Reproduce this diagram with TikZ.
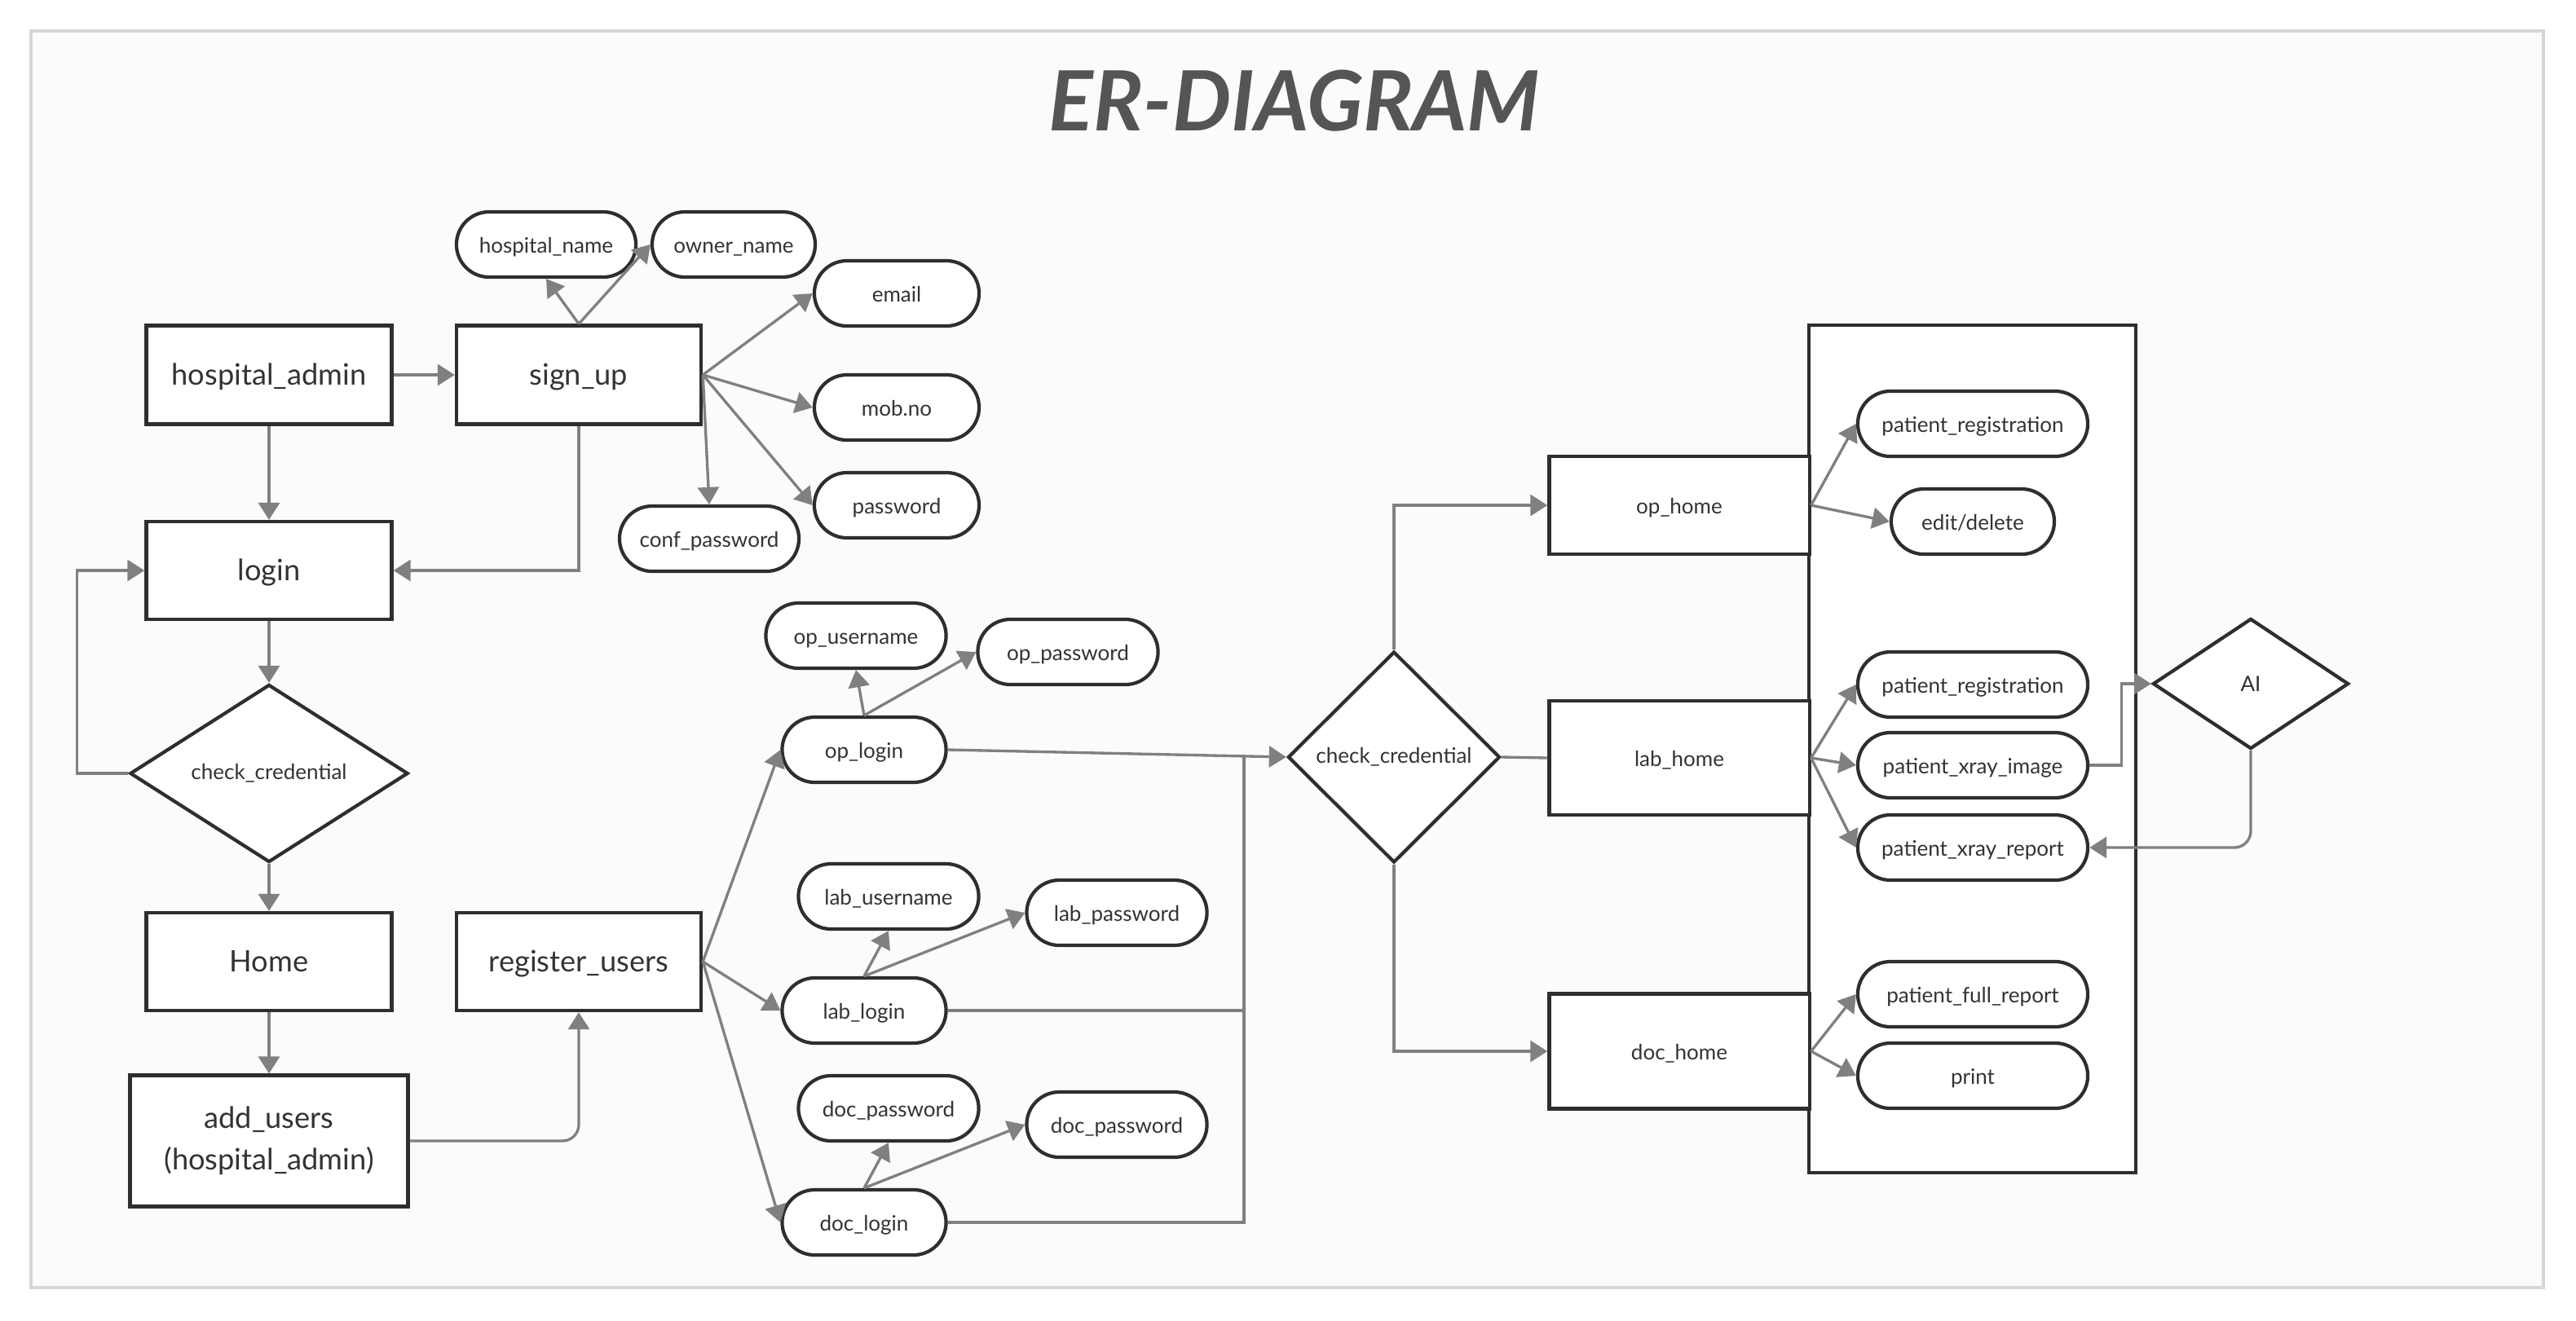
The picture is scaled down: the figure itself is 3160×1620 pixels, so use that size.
\documentclass[tikz,border=0pt]{standalone}
\usepackage{fontspec}
\setmainfont{Lato}
\usepackage{xcolor}
\usetikzlibrary{shapes.geometric, shapes.misc, arrows.meta}

\definecolor{boxcol}{HTML}{2E2E2E}
\definecolor{linecol}{HTML}{808080}
\definecolor{txtcol}{HTML}{333333}
\definecolor{titlecol}{HTML}{555555}
\definecolor{framecol}{HTML}{D6D6D6}
\definecolor{bgcol}{HTML}{FCFBFA}

\tikzset{
  boxbase/.style={draw=boxcol, line width=1.2pt, fill=white, text=txtcol, inner sep=0pt},
  entitytwo/.style={boxbase, font=\fontsize{10.3}{14.5}\selectfont, align=center,
    minimum width=3.01cm, minimum height=1.2cm},
  entity/.style={entitytwo, text height=1.75ex, text depth=0.3ex},
  smallent/.style={boxbase, font=\fontsize{7.4}{9}\selectfont, minimum width=3.19cm,
    minimum height=1.2cm, text height=1.55ex, text depth=0.4ex},
  attr/.style={rounded rectangle, boxbase, font=\fontsize{7.4}{9}\selectfont,
    minimum height=0.8cm, text height=1.55ex, text depth=0.4ex},
  rel/.style={diamond, boxbase, font=\fontsize{7.4}{9}\selectfont},
  conn/.style={draw=linecol, line width=0.95pt, -{Triangle[length=0.21cm,width=0.26cm]}},
  link/.style={draw=linecol, line width=0.95pt}
}

\begin{document}
\begin{tikzpicture}[x=0.01cm, y=-0.01cm]

% Fundo e moldura
\fill[white] (0,0) rectangle (3160,1620);
\useasboundingbox (0,0) rectangle (3160,1620);
\draw[framecol, fill=bgcol, line width=0.04cm] (38,38) rectangle (3120,1580);

% Titulo
\node[font=\fontsize{29}{30}\selectfont\bfseries\itshape, text=titlecol] (title) at (1588,124) {ER-DIAGRAM};

% Coluna do hospital_admin
\node[entity, minimum height=1.21cm] (hadmin) at (330,460) {hospital\_admin};
\node[entity, minimum height=1.21cm, minimum width=3cm] (signup) at (710,460) {sign\_up};
\node[entity] (login) at (330,700) {login};
\node[rel, aspect=1.56, minimum width=3.41cm, minimum height=2.18cm] (cc1) at (330,949) {check\_credential};
\node[entity] (home) at (330,1180) {Home};
\node[entitytwo, minimum width=3.41cm, minimum height=1.61cm] (addusers) at (330,1400) {add\_users\\(hospital\_admin)};
\node[entity, minimum width=3cm] (regusers) at (710,1180) {register\_users};

% Atributos do sign_up
\node[attr, minimum width=2.2cm] (hname) at (670,300) {hospital\_name};
\node[attr, minimum width=2cm] (oname) at (900,300) {owner\_name};
\node[attr, minimum width=2.02cm] (email) at (1100,360) {email};
\node[attr, minimum width=2.02cm] (mobno) at (1100,500) {mob.no};
\node[attr, minimum width=2.02cm] (pwd) at (1100,620) {password};
\node[attr, minimum width=2.2cm] (cpwd) at (870,661) {conf\_password};

% Logins dos usuarios
\node[attr, minimum width=2.21cm] (opuser) at (1050,780) {op\_username};
\node[attr, minimum width=2.21cm] (oppwd) at (1310,800) {op\_password};
\node[attr, minimum width=2.01cm] (oplogin) at (1060,920) {op\_login};
\node[attr, minimum width=2.21cm] (labuser) at (1090,1100) {lab\_username};
\node[attr, minimum width=2.21cm] (labpwd) at (1370,1120) {lab\_password};
\node[attr, minimum width=2.01cm] (lablogin) at (1060,1240) {lab\_login};
\node[attr, minimum width=2.21cm] (docpwd) at (1090,1360) {doc\_password};
\node[attr, minimum width=2.21cm] (docpwdb) at (1370,1380) {doc\_password};
\node[attr, minimum width=2.01cm] (doclogin) at (1060,1500) {doc\_login};

% Verificacao e paginas iniciais
\node[rel, minimum width=2.6cm, minimum height=2.59cm] (cc2) at (1710,929) {check\_credential};
\node[boxbase, minimum width=4.01cm, minimum height=10.4cm] (panel) at (2419.5,919) {};
\node[smallent] (ophome) at (2060,620) {op\_home};
\node[smallent, minimum height=1.4cm] (labhome) at (2060,930) {lab\_home};
\node[smallent, minimum height=1.41cm] (dochome) at (2060,1290) {doc\_home};

% Funcoes de cada pagina
\node[attr, minimum width=2.82cm] (pregop) at (2420,520) {patient\_registration};
\node[attr, minimum width=2cm] (edit) at (2420,640) {edit/delete};
\node[attr, minimum width=2.82cm] (preglab) at (2420,840) {patient\_registration};
\node[attr, minimum width=2.82cm] (ximage) at (2420,939) {patient\_xray\_image};
\node[attr, minimum width=2.82cm] (xreport) at (2420,1040) {patient\_xray\_report};
\node[attr, minimum width=2.82cm] (fullrep) at (2420,1220) {patient\_full\_report};
\node[attr, minimum width=2.82cm] (print) at (2420,1320) {print};
\node[rel, aspect=1.5, minimum width=2.4cm, minimum height=1.6cm] (ai) at (2761,839) {AI};

% Ligacoes do hospital_admin
\draw[conn] (hadmin) -- (signup);
\draw[conn] (hadmin) -- (login);
\draw[conn] (signup.south) |- (login.east);
\draw[conn] (login) -- (cc1);
\draw[conn] (cc1.west) -- ++(-63,0) |- (login.west);
\draw[conn] (cc1) -- (home);
\draw[conn] (home) -- (addusers);
\draw[conn, rounded corners=0.2cm] (addusers.east) -| (regusers.south);

% Atributos do sign_up
\draw[conn] (signup.north) -- (hname.south);
\draw[conn] (signup.north) -- (oname.west);
\draw[conn] (signup.east) -- (email.west);
\draw[conn] (signup.east) -- (mobno.west);
\draw[conn] (signup.east) -- (pwd.west);
\draw[conn] (signup.east) -- (cpwd.north);

% register_users para os logins
\draw[conn] (regusers.east) -- (oplogin.west);
\draw[conn] (regusers.east) -- (lablogin.west);
\draw[conn] (regusers.east) -- (doclogin.west);
\draw[conn] (oplogin.north) -- (opuser.south);
\draw[conn] (oplogin.north) -- (oppwd.west);
\draw[conn] (lablogin.north) -- (labuser.south);
\draw[conn] (lablogin.north) -- (labpwd.west);
\draw[conn] (doclogin.north) -- (docpwd.south);
\draw[conn] (doclogin.north) -- (docpwdb.west);

% Barramento ate o check_credential
\coordinate (bus) at (1526,929);
\draw[conn] (oplogin.east) -- (cc2.west);
\draw[link] (lablogin.east) -- (lablogin.east -| bus);
\draw[link] (doclogin.east) -| (bus);

% Saidas do check_credential
\draw[conn] (cc2.north) |- (ophome.west);
\draw[link] (cc2.east) -- (labhome.west);
\draw[conn] (cc2.south) |- (dochome.west);

% Funcoes das paginas
\draw[conn] (ophome.east) -- (pregop.west);
\draw[conn] (ophome.east) -- (edit.west);
\draw[conn] (labhome.east) -- (preglab.west);
\draw[conn] (labhome.east) -- (ximage.west);
\draw[conn] (labhome.east) -- (xreport.west);
\draw[conn] (dochome.east) -- (fullrep.west);
\draw[conn] (dochome.east) -- (print.west);

% Analise pela IA
\draw[conn] (ximage.east) -- ++(39,0) |- (ai.west);
\draw[conn, rounded corners=0.2cm] (ai.south) |- (xreport.east);

\end{tikzpicture}
\end{document}
